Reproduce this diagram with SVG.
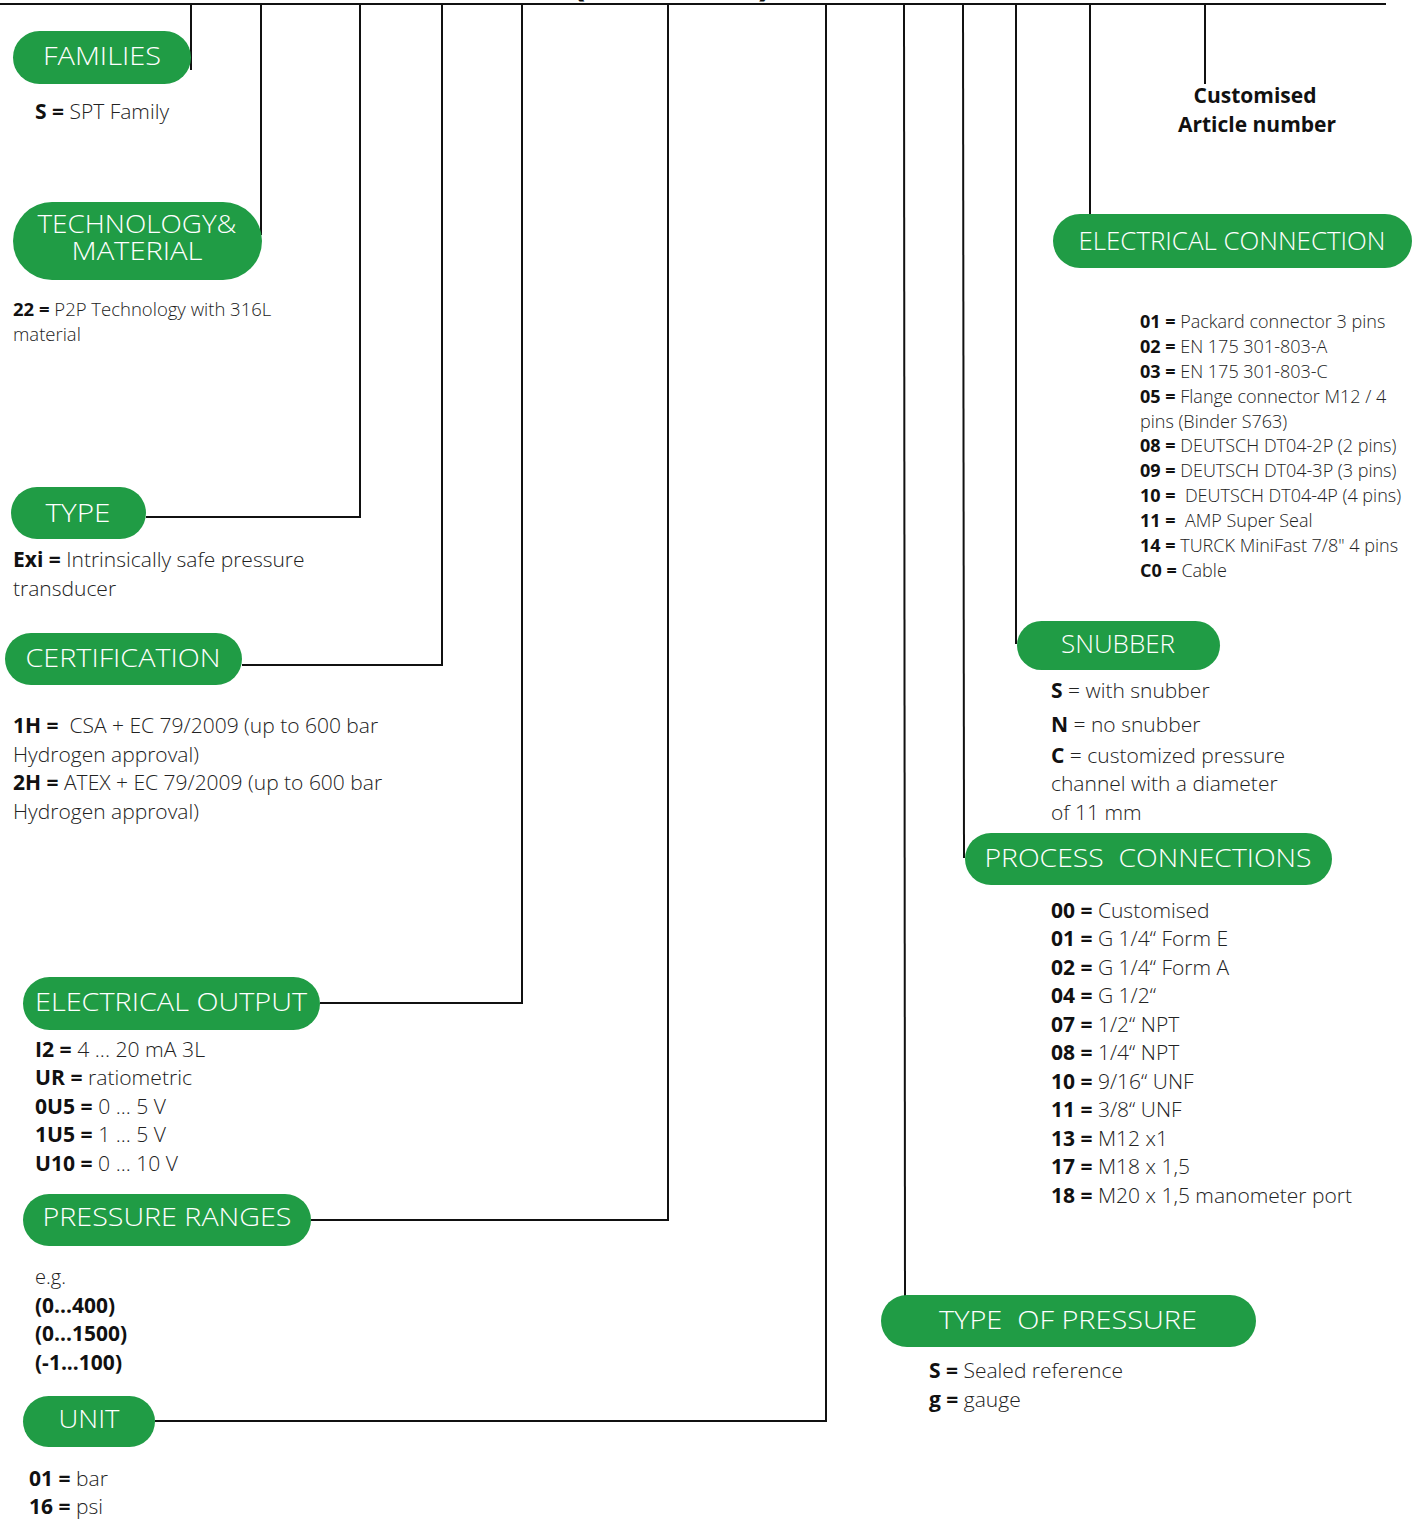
<svg xmlns="http://www.w3.org/2000/svg" width="1423" height="1519" viewBox="0 0 1423 1519">
<style>
.pill{fill:#209c45}
.pt{font-family:"Open Sans","Liberation Sans",sans-serif;font-weight:300;font-size:26px;fill:#ffffff;text-anchor:middle}
.tx{font-family:"Open Sans","Liberation Sans",sans-serif;font-weight:300;fill:#222222}
.b{font-weight:700;fill:#111111}
.s17{font-size:18px}
.s18{font-size:18.5px}
.s20{font-size:21px}
.s21{font-size:21px}
.cn{fill:none;stroke:#111111;stroke-width:2}
.par{font-family:"Open Sans","Liberation Sans",sans-serif;font-weight:700;font-size:40px;fill:#111111}
</style>
<rect width="1423" height="1519" fill="#ffffff"/>
<text class="par" x="572" y="-5">(</text>
<text class="par" x="758" y="-5">)</text>
<g id="connectors">
<line class="cn" x1="0" y1="4" x2="1386" y2="4"/>
<polyline class="cn" points="191,4 191,70"/>
<polyline class="cn" points="261,4 261,235"/>
<polyline class="cn" points="360,4 360,517 146,517"/>
<polyline class="cn" points="442,4 442,665 242,665"/>
<polyline class="cn" points="522,4 522,1003 320,1003"/>
<polyline class="cn" points="668,4 668,1220 311,1220"/>
<polyline class="cn" points="826,4 826,1421 155,1421"/>
<polyline class="cn" points="904,4 905,1296"/>
<polyline class="cn" points="963,4 964,858"/>
<polyline class="cn" points="1016,4 1016,644"/>
<polyline class="cn" points="1090,4 1090,214"/>
<polyline class="cn" points="1205,4 1205,84"/>
</g>
<g id="families">
<rect class="pill" x="13" y="31" width="178" height="53" rx="26.5"/>
<text class="pt" x="102" y="65" textLength="118" lengthAdjust="spacingAndGlyphs">FAMILIES</text>
<text class="tx s20" x="35" y="119"><tspan class="b">S =</tspan> SPT Family</text>
</g>
<g id="technology">
<rect class="pill" x="13" y="202" width="249" height="78" rx="39"/>
<text class="pt" x="137" y="233" font-size="25" textLength="199" lengthAdjust="spacingAndGlyphs">TECHNOLOGY&amp;</text>
<text class="pt" x="137" y="260" font-size="25" textLength="131" lengthAdjust="spacingAndGlyphs">MATERIAL</text>
<text class="tx s18" x="13" y="316"><tspan class="b">22 =</tspan> P2P Technology with 316L</text>
<text class="tx s18" x="13" y="341">material</text>
</g>
<g id="type">
<rect class="pill" x="11" y="487" width="135" height="52" rx="26"/>
<text class="pt" x="78" y="522" textLength="65" lengthAdjust="spacingAndGlyphs">TYPE</text>
<text class="tx s21" x="13" y="567"><tspan class="b">Exi =</tspan> Intrinsically safe pressure</text>
<text class="tx s21" x="13" y="596">transducer</text>
</g>
<g id="certification">
<rect class="pill" x="5" y="633" width="237" height="52" rx="26"/>
<text class="pt" x="123" y="667" textLength="195" lengthAdjust="spacingAndGlyphs">CERTIFICATION</text>
<text class="tx s21" x="13" y="733" xml:space="preserve"><tspan class="b">1H =</tspan>  CSA + EC 79/2009 (up to 600 bar</text>
<text class="tx s21" x="13" y="762">Hydrogen approval)</text>
<text class="tx s21" x="13" y="790"><tspan class="b">2H =</tspan> ATEX + EC 79/2009 (up to 600 bar</text>
<text class="tx s21" x="13" y="819">Hydrogen approval)</text>
</g>
<g id="electrical-output">
<rect class="pill" x="23" y="977" width="297" height="53" rx="26.5"/>
<text class="pt" x="171" y="1011" textLength="272" lengthAdjust="spacingAndGlyphs">ELECTRICAL OUTPUT</text>
<text class="tx s21" x="35" y="1057" textLength="170" lengthAdjust="spacingAndGlyphs"><tspan class="b">I2 =</tspan> 4 ... 20 mA 3L</text>
<text class="tx s21" x="35" y="1085" textLength="157" lengthAdjust="spacingAndGlyphs"><tspan class="b">UR =</tspan> ratiometric</text>
<text class="tx s21" x="35" y="1114" textLength="131" lengthAdjust="spacingAndGlyphs"><tspan class="b">0U5 =</tspan> 0 ... 5 V</text>
<text class="tx s21" x="35" y="1142" textLength="131" lengthAdjust="spacingAndGlyphs"><tspan class="b">1U5 =</tspan> 1 ... 5 V</text>
<text class="tx s21" x="35" y="1171" textLength="143" lengthAdjust="spacingAndGlyphs"><tspan class="b">U10 =</tspan> 0 ... 10 V</text>
</g>
<g id="pressure-ranges">
<rect class="pill" x="23" y="1194" width="288" height="52" rx="26"/>
<text class="pt" x="167" y="1226" textLength="249" lengthAdjust="spacingAndGlyphs">PRESSURE RANGES</text>
<text class="tx s21" x="35" y="1284" textLength="31" lengthAdjust="spacingAndGlyphs">e.g.</text>
<text class="tx s21 b" x="35" y="1313" textLength="80" lengthAdjust="spacingAndGlyphs">(0...400)</text>
<text class="tx s21 b" x="35" y="1341" textLength="92" lengthAdjust="spacingAndGlyphs">(0...1500)</text>
<text class="tx s21 b" x="35" y="1370" textLength="87" lengthAdjust="spacingAndGlyphs">(-1...100)</text>
</g>
<g id="unit">
<rect class="pill" x="23" y="1396" width="132" height="51" rx="25.5"/>
<text class="pt" x="89" y="1428" textLength="61" lengthAdjust="spacingAndGlyphs">UNIT</text>
<text class="tx s21" x="29" y="1486" textLength="79" lengthAdjust="spacingAndGlyphs"><tspan class="b">01 =</tspan> bar</text>
<text class="tx s21" x="29" y="1514" textLength="74" lengthAdjust="spacingAndGlyphs"><tspan class="b">16 =</tspan> psi</text>
</g>
<g id="customised">
<text class="tx s21 b" x="1255" y="103" text-anchor="middle">Customised</text>
<text class="tx s21 b" x="1257" y="132" text-anchor="middle">Article number</text>
</g>
<g id="electrical-connection">
<rect class="pill" x="1053" y="214" width="359" height="54" rx="27"/>
<text class="pt" x="1232" y="250" textLength="307" lengthAdjust="spacingAndGlyphs">ELECTRICAL CONNECTION</text>
<text class="tx s17" x="1140" y="328"><tspan class="b">01 =</tspan> Packard connector 3 pins</text>
<text class="tx s17" x="1140" y="353"><tspan class="b">02 =</tspan> EN 175 301-803-A</text>
<text class="tx s17" x="1140" y="378"><tspan class="b">03 =</tspan> EN 175 301-803-C</text>
<text class="tx s17" x="1140" y="403"><tspan class="b">05 =</tspan> Flange connector M12 / 4</text>
<text class="tx s17" x="1140" y="428">pins (Binder S763)</text>
<text class="tx s17" x="1140" y="452"><tspan class="b">08 =</tspan> DEUTSCH DT04-2P (2 pins)</text>
<text class="tx s17" x="1140" y="477"><tspan class="b">09 =</tspan> DEUTSCH DT04-3P (3 pins)</text>
<text class="tx s17" x="1140" y="502" xml:space="preserve"><tspan class="b">10 =</tspan>  DEUTSCH DT04-4P (4 pins)</text>
<text class="tx s17" x="1140" y="527" xml:space="preserve"><tspan class="b">11 =</tspan>  AMP Super Seal</text>
<text class="tx s17" x="1140" y="552"><tspan class="b">14 =</tspan> TURCK MiniFast 7/8" 4 pins</text>
<text class="tx s17" x="1140" y="577"><tspan class="b">C0 =</tspan> Cable</text>
</g>
<g id="snubber">
<rect class="pill" x="1017" y="621" width="203" height="49" rx="24.5"/>
<text class="pt" x="1118" y="653" textLength="114" lengthAdjust="spacingAndGlyphs">SNUBBER</text>
<text class="tx s21" x="1051" y="698"><tspan class="b">S</tspan> = with snubber</text>
<text class="tx s21" x="1051" y="732"><tspan class="b">N</tspan> = no snubber</text>
<text class="tx s21" x="1051" y="763"><tspan class="b">C</tspan> = customized pressure</text>
<text class="tx s21" x="1051" y="791">channel with a diameter</text>
<text class="tx s21" x="1051" y="820">of 11 mm</text>
</g>
<g id="process-connections">
<rect class="pill" x="965" y="833" width="367" height="52" rx="26"/>
<text class="pt" x="1148" y="867" textLength="327" lengthAdjust="spacingAndGlyphs" xml:space="preserve">PROCESS  CONNECTIONS</text>
<text class="tx s21" x="1051" y="918"><tspan class="b">00 =</tspan> Customised</text>
<text class="tx s21" x="1051" y="946"><tspan class="b">01 =</tspan> G 1/4“ Form E</text>
<text class="tx s21" x="1051" y="975"><tspan class="b">02 =</tspan> G 1/4“ Form A</text>
<text class="tx s21" x="1051" y="1003"><tspan class="b">04 =</tspan> G 1/2“</text>
<text class="tx s21" x="1051" y="1032"><tspan class="b">07 =</tspan> 1/2“ NPT</text>
<text class="tx s21" x="1051" y="1060"><tspan class="b">08 =</tspan> 1/4“ NPT</text>
<text class="tx s21" x="1051" y="1089"><tspan class="b">10 =</tspan> 9/16“ UNF</text>
<text class="tx s21" x="1051" y="1117"><tspan class="b">11 =</tspan> 3/8“ UNF</text>
<text class="tx s21" x="1051" y="1146"><tspan class="b">13 =</tspan> M12 x1</text>
<text class="tx s21" x="1051" y="1174"><tspan class="b">17 =</tspan> M18 x 1,5</text>
<text class="tx s21" x="1051" y="1203"><tspan class="b">18 =</tspan> M20 x 1,5 manometer port</text>
</g>
<g id="type-of-pressure">
<rect class="pill" x="881" y="1295" width="375" height="52" rx="26"/>
<text class="pt" x="1068" y="1329" textLength="258" lengthAdjust="spacingAndGlyphs" xml:space="preserve">TYPE  OF PRESSURE</text>
<text class="tx s21" x="929" y="1378"><tspan class="b">S =</tspan> Sealed reference</text>
<text class="tx s21" x="929" y="1407"><tspan class="b">g =</tspan> gauge</text>
</g>
</svg>
